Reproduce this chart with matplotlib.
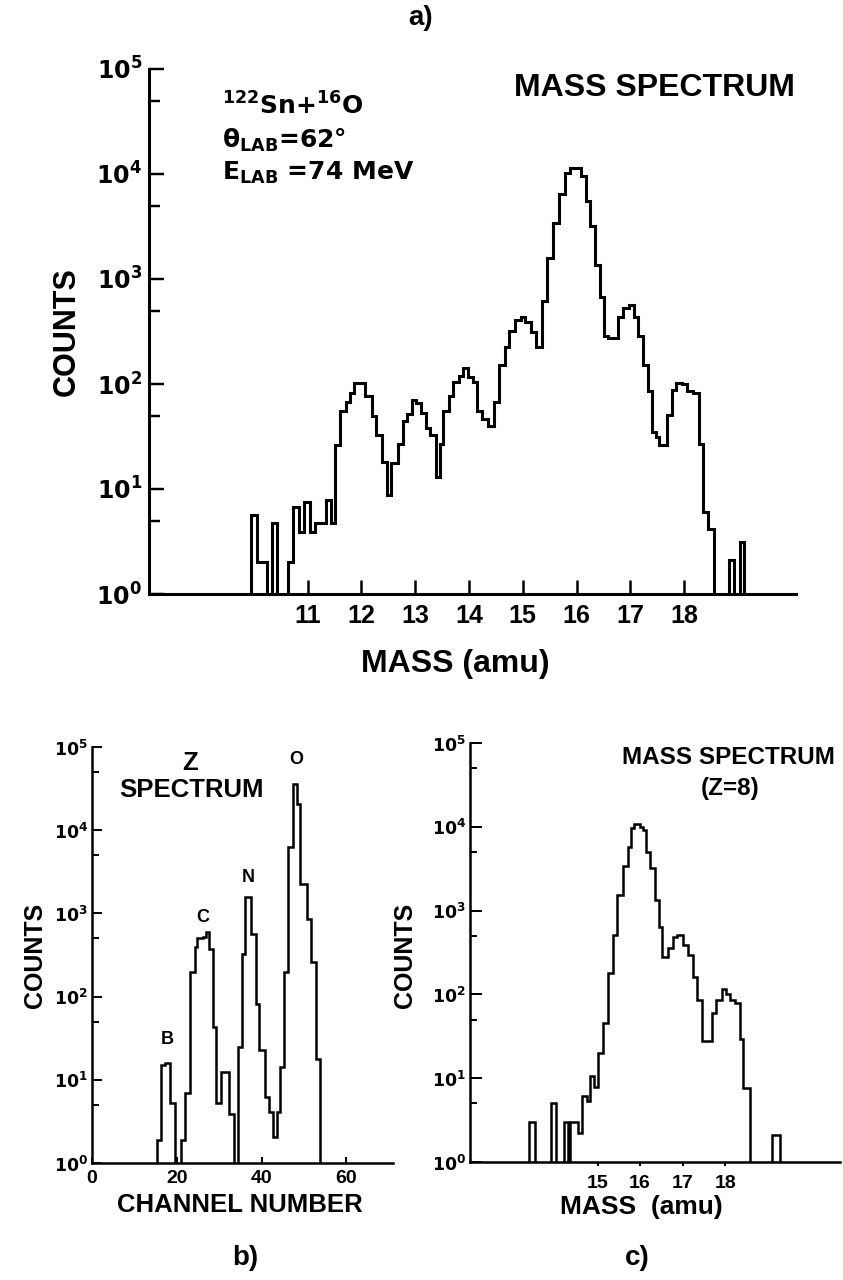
import numpy as np
import matplotlib
matplotlib.use("Agg")
import matplotlib.pyplot as plt
from matplotlib.ticker import FixedLocator, NullFormatter

plt.rcParams['font.family'] = ['Liberation Sans', 'DejaVu Sans']
plt.rcParams['font.weight'] = 'bold'
plt.rcParams['mathtext.fontset'] = 'custom'
for _k in ('rm', 'it', 'bf', 'sf'):
    plt.rcParams['mathtext.' + _k] = 'DejaVu Sans:bold'

# ---------------- a) mass spectrum, all fragments ----------------
mass_edges_a = [9.95, 10.06, 10.25, 10.33, 10.43, 10.63, 10.72, 10.84, 10.94, 11.04,
                11.14, 11.34, 11.43, 11.51, 11.61, 11.71, 11.79, 11.87, 12.06, 12.20,
                12.28, 12.38, 12.47, 12.55, 12.68, 12.77, 12.85, 12.94, 13.02, 13.10,
                13.20, 13.28, 13.38, 13.46, 13.52, 13.62, 13.71, 13.81, 13.89, 13.99,
                14.07, 14.15, 14.25, 14.36, 14.46, 14.56, 14.66, 14.75, 14.86, 14.96,
                15.05, 15.15, 15.25, 15.35, 15.45, 15.56, 15.68, 15.78, 15.88, 16.09,
                16.17, 16.25, 16.35, 16.43, 16.51, 16.59, 16.77, 16.86, 16.98, 17.06,
                17.14, 17.24, 17.32, 17.40, 17.48, 17.53, 17.69, 17.77, 17.85, 17.96,
                18.06, 18.16, 18.28, 18.36, 18.45, 18.55, 18.83, 18.92, 19.03, 19.12]
counts_a = [5.6, 2, 0, 4.75, 0, 2, 6.7, 3.9, 7.6, 3.9,
            4.75, 7.8, 4.75, 26, 55, 67, 82, 102, 77, 50,
            33, 18, 8.7, 17.8, 27, 44, 52, 70, 66, 53,
            38, 33, 13, 27, 55, 77, 105, 120, 143, 116,
            105, 55, 46, 40, 67, 152, 225, 318, 405, 437,
            390, 310, 225, 620, 1580, 3450, 6450, 10200, 11300, 9500,
            5500, 3170, 1350, 670, 285, 274, 437, 530, 560, 437,
            285, 152, 85, 35, 31, 26, 51, 88, 103, 100,
            85, 82, 27, 6.0, 4.2, 0, 2.1, 0, 3.15]
mass_ticks_a = [11, 12, 13, 14, 15, 16, 17, 18]

# ---------------- b) Z spectrum ----------------
channel_edges_b = [15.3, 16.3, 17.2, 18.4, 19.5, 21.0, 22.0, 23.0, 24.2, 24.7,
                   26.1, 26.8, 27.6, 28.5, 29.3, 30.5, 32.4, 33.4, 34.4, 35.4,
                   36.2, 37.4, 38.6, 39.5, 40.7, 41.7, 42.7, 43.6, 44.3, 45.2,
                   46.2, 47.4, 48.3, 49.0, 50.7, 51.7, 52.8, 53.7]
counts_b = [1.9, 15, 16, 5.2, 0, 1.9, 6.9, 198, 400, 510,
            520, 600, 375, 43, 5.2, 12.4, 3.9, 0, 24.8, 328,
            1575, 570, 82, 22.6, 6.2, 4.1, 2.05, 4.1, 14.3, 198,
            6300, 36000, 20800, 2275, 865, 260, 18]
channel_ticks_b = [0, 20, 40, 60]
element_labels = ['B', 'C', 'N', 'O']

# ---------------- c) mass spectrum gated on Z=8 ----------------
mass_edges_c = [13.38, 13.54, 13.90, 14.03, 14.21, 14.31, 14.35, 14.53, 14.63, 14.74,
                14.82, 14.92, 15.02, 15.12, 15.24, 15.36, 15.45, 15.59, 15.71, 15.79,
                15.85, 15.99, 16.07, 16.14, 16.24, 16.34, 16.44, 16.52, 16.66, 16.78,
                16.86, 17.01, 17.13, 17.25, 17.34, 17.45, 17.68, 17.79, 17.92, 18.02,
                18.12, 18.24, 18.34, 18.42, 18.59, 19.10, 19.30]
counts_c = [3.0, 0, 5.0, 0, 3.0, 0, 3.0, 2.2, 6.2, 5.4,
            10.5, 7.8, 20, 46, 180, 510, 1550, 3370, 5800, 9600,
            10700, 10000, 9100, 5070, 3200, 1340, 645, 283, 355, 490,
            510, 390, 295, 162, 85, 28, 60, 86, 115, 100,
            86, 78, 29, 7.6, 0, 2.1]
mass_ticks_c = [15, 16, 17, 18]

decades = [1, 10, 100, 1000, 10000, 100000]
decade_labels = [r'$10^{%d}$' % k for k in range(6)]
half_decades = [5, 50, 500, 5000, 50000]

W, H = 843, 1280
fig = plt.figure(figsize=(W / 100, H / 100), dpi=100)
fig.patch.set_facecolor('white')


def axes_px(left, top, right, bottom):
    return fig.add_axes([left / W, 1 - bottom / H, (right - left) / W, (bottom - top) / H])


def fig_text(x, y, s, **kw):
    kw.setdefault('ha', 'center')
    kw.setdefault('va', 'center')
    kw.setdefault('fontweight', 'bold')
    fig.text(x / W, 1 - y / H, s, **kw)


def log_axis(ax, lw, major_len, minor_len, label_size, pad):
    ax.set_yscale('log', nonpositive='clip')
    ax.set_ylim(1, 1e5)
    ax.patch.set_visible(False)
    for side in ('top', 'right'):
        ax.spines[side].set_visible(False)
    for side in ('left', 'bottom'):
        ax.spines[side].set_linewidth(lw)
        ax.spines[side].set_capstyle('projecting')
    ax.yaxis.set_major_locator(FixedLocator(decades))
    ax.yaxis.set_minor_locator(FixedLocator(half_decades))
    ax.yaxis.set_minor_formatter(NullFormatter())
    ax.set_yticklabels(decade_labels, fontsize=label_size)
    ax.tick_params(axis='y', which='major', direction='in', length=major_len,
                   width=lw * 0.8, pad=pad)
    ax.tick_params(axis='y', which='minor', direction='in', length=minor_len,
                   width=lw * 0.8)


def histogram(ax, edges, counts, lw):
    floor = 0.2
    vals = np.clip(np.asarray(counts, dtype=float), floor, None)
    ax.stairs(vals, edges, baseline=floor, color='black', linewidth=lw,
              joinstyle='miter', clip_on=True)


# ---------- panel a ----------
ax_a = axes_px(149, 69, 796, 594)
histogram(ax_a, mass_edges_a, counts_a, 2.2)
log_axis(ax_a, 2.2, 11, 8, 17, 5)
ax_a.set_xlim(8.05, 20.08)
ax_a.set_xticks(mass_ticks_a)
ax_a.set_xticklabels([str(t) for t in mass_ticks_a], fontsize=18)
ax_a.tick_params(axis='x', direction='in', length=10, width=1.8, pad=7)

fig_text(421, 18, 'a)', fontsize=20)
fig_text(67, 332, 'COUNTS', fontsize=22, rotation=90)
fig_text(455, 664, 'MASS (amu)', fontsize=23)
fig_text(654, 88, 'MASS SPECTRUM', fontsize=23)
note_font = dict(fontsize=18, ha='left', va='baseline', family='DejaVu Sans')
fig_text(222, 115, r'$^{122}$Sn+$^{16}$O', **note_font)
fig_text(222, 148, r'θ$_{LAB}$=62°', **note_font)
fig_text(222, 180, r'E$_{LAB}$ =74 MeV', **note_font)

# ---------- panel b ----------
ax_b = axes_px(92, 747, 393, 1163)
histogram(ax_b, channel_edges_b, counts_b, 1.8)
log_axis(ax_b, 1.8, 7.5, 5, 12.5, 3)
ax_b.set_xlim(0, 71)
ax_b.set_xticks(channel_ticks_b)
ax_b.set_xticklabels([str(t) for t in channel_ticks_b], fontsize=14)
ax_b.tick_params(axis='x', direction='in', length=4, width=1.5, pad=5)

fig_text(35, 955, 'COUNTS', fontsize=18, rotation=90)
fig_text(240, 1205, 'CHANNEL NUMBER', fontsize=18.5)
fig_text(190, 763, 'Z', fontsize=18.5)
fig_text(191, 790, 'SPECTRUM', fontsize=18.5)
for lab, (x, y) in zip(element_labels, [(167, 1040), (203, 917), (248, 878), (296, 760)]):
    fig_text(x, y, lab, fontsize=13)
fig_text(245, 1258, 'b)', fontsize=20)

# ---------- panel c ----------
ax_c = axes_px(470, 743, 840, 1162)
histogram(ax_c, mass_edges_c, counts_c, 1.8)
log_axis(ax_c, 1.8, 8.5, 5, 12.5, 3)
ax_c.set_xlim(12.0, 20.7)
ax_c.set_xticks(mass_ticks_c)
ax_c.set_xticklabels([str(t) for t in mass_ticks_c], fontsize=14)
ax_c.tick_params(axis='x', direction='out', length=3, width=1.5, pad=6)

fig_text(405, 955, 'COUNTS', fontsize=18, rotation=90)
fig_text(728, 758, 'MASS SPECTRUM', fontsize=17.5)
fig_text(730, 789, '(Z=8)', fontsize=17.5)
fig_text(641, 1207, 'MASS  (amu)', fontsize=19)
fig_text(637, 1258, 'c)', fontsize=20)

fig.savefig('out.png', dpi=100, facecolor='white')
